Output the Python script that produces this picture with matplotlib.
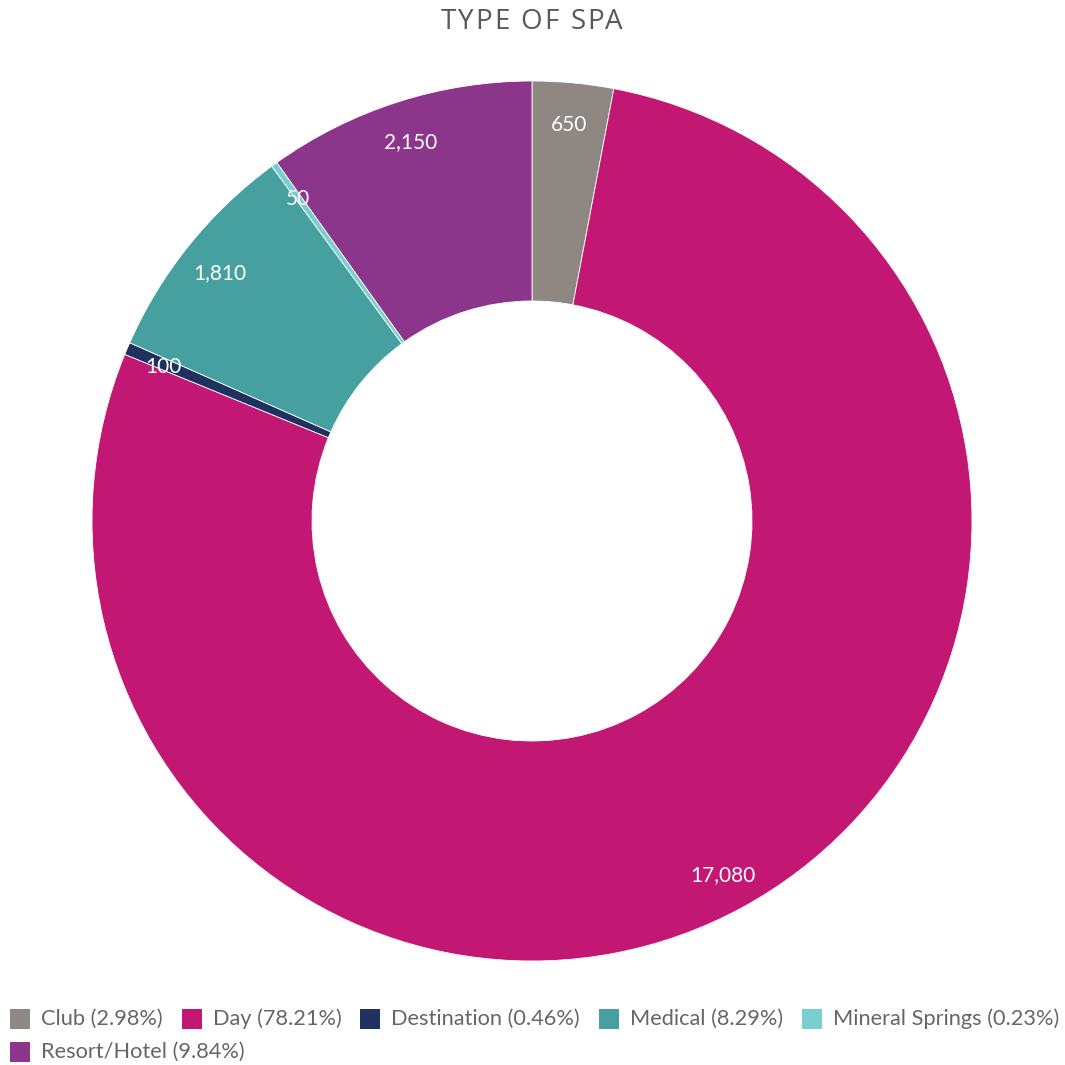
import matplotlib.pyplot as plt
from matplotlib.patches import Rectangle
import numpy as np

# Spa counts by type
categories = ['Club', 'Day', 'Destination', 'Medical', 'Mineral Springs', 'Resort/Hotel']
counts = [650, 17080, 100, 1810, 50, 2150]
colors = ['#8f8782', '#c21874', '#1e3160', '#47a0a0', '#77cfd0', '#8b368b']

W, H = 1065, 1065
fig = plt.figure(figsize=(W / 100, H / 100), dpi=100)

# Donut axes: center (532, 521) px, outer radius 440 px
cx, cy, R = 532, 521, 440
ax = fig.add_axes([(cx - R) / W, (H - cy - R) / H, 2 * R / W, 2 * R / H])
wedges, _ = ax.pie(counts, colors=colors, startangle=90, counterclock=False,
                   radius=1.0, wedgeprops=dict(width=0.5, edgecolor='white', linewidth=0.6))
ax.set_xlim(-1, 1)
ax.set_ylim(-1, 1)
ax.set_aspect('equal')
ax.axis('off')

# value labels inside the ring, near the outer edge
total = sum(counts)
cum = np.cumsum([0] + counts)
for i, v in enumerate(counts):
    mid = (cum[i] + v / 2) / total * 2 * np.pi
    r = 0.91
    x, y = r * np.sin(mid), r * np.cos(mid) - 0.006
    ax.text(x, y, f'{v:,}', ha='center', va='center', color='white',
            fontsize=15, family='Lato')

# spaced-out title, one letter at a time
fig.canvas.draw()
renderer = fig.canvas.get_renderer()
title = 'TYPE OF SPA'
spacing = 1.8
parts = [fig.text(0, 0, ch, fontsize=20, family='Open Sans', color='#595959', va='center')
         for ch in title]
widths = [p.get_window_extent(renderer).width if ch != ' ' else 8 for p, ch in zip(parts, title)]
tot_w = sum(widths) + spacing * (len(title) - 1)
tx = cx - tot_w / 2
for p, w in zip(parts, widths):
    p.set_position((tx / W, (H - 22) / H))
    tx += w + spacing

# legend drawn by hand so it wraps like a flowing row
rows_y = [1019, 1052]
x = 10
row = 0
sq = 20
for name, v, c in zip(categories, counts, colors):
    label = f'{name} ({v / total * 100:.2f}%)'
    t = fig.text(0, 0, label, fontsize=15.7, family='Lato', color='#666666', va='center')
    tw = t.get_window_extent(renderer).width
    if x + sq + 11 + tw > W - 2:
        row += 1
        x = 10
    yc = rows_y[row]
    fig.patches.append(Rectangle((x / W, (H - yc - sq / 2) / H), sq / W, sq / H,
                                 transform=fig.transFigure, facecolor=c, edgecolor='none'))
    t.set_position(((x + sq + 11) / W, (H - yc) / H))
    x += sq + 11 + tw + 19

fig.savefig('out.png', dpi=100, facecolor='white')
